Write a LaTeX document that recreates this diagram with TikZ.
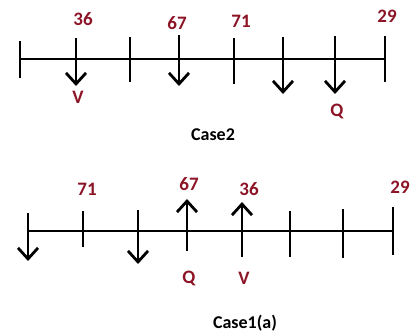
\documentclass[tikz,border=0pt]{standalone}
\usepackage{fontspec}
\setmainfont{Carlito}
\usepackage{tikz}
\usetikzlibrary{arrows.meta}
\definecolor{darkred}{rgb}{0.55,0.08,0.15}

\begin{document}
\begin{tikzpicture}[
  x=1pt,y=-1pt,
  axis/.style={line width=2.8pt},
  tick/.style={line width=2.8pt},
  flow/.style={line width=2.8pt,-{Straight Barb[length=11pt,width=20pt]}},
  value/.style={font={\fontsize{19}{19}\selectfont\bfseries},text=darkred},
  title/.style={font={\fontsize{18}{18}\selectfont\bfseries}},
  ]
  \useasboundingbox (0,0) rectangle (412,335);
  % Case 2 line
  \coordinate (a0) at (20,59);
  \coordinate (a7) at (384,59);
  \draw[axis] (a0) -- (a7);
  \draw[tick] (20,41) -- (20,78);
  \draw[tick] (130,37) -- (130,82);
  \draw[tick] (234,38) -- (234,84);
  \draw[tick] (385,36) -- (385,82);
  % Case 2 flows
  \coordinate (v1) at (76,38); \coordinate (v1e) at (76,86);
  \coordinate (v2) at (179,35); \coordinate (v2e) at (179,86);
  \coordinate (v3) at (283,37); \coordinate (v3e) at (283,94);
  \coordinate (v4) at (335,36); \coordinate (v4e) at (335,94);
  \draw[flow] (v1) -- (v1e);
  \draw[flow] (v2) -- (v2e);
  \draw[flow] (v3) -- (v3e);
  \draw[flow] (v4) -- (v4e);
  % Case 2 labels
  \node[value] (n36) at (83,19) {36};
  \node[value] (n67) at (177,23) {67};
  \node[value] (n71) at (241,21) {71};
  \node[value] (n29) at (387,16) {29};
  \node[value] (nV) at (78,97) {V};
  \node[value] (nQ) at (337,111) {Q};
  \node[title] (case2) at (213,135) {Case2};
  % Case 1(a) line
  \coordinate (b0) at (28,231);
  \coordinate (b7) at (392,231);
  \draw[axis] (b0) -- (b7);
  \draw[tick] (83,211) -- (83,247);
  \draw[tick] (290,211) -- (290,257);
  \draw[tick] (343,209) -- (343,258);
  \draw[tick] (393,207) -- (393,255);
  % Case 1(a) flows
  \coordinate (w1) at (28,213); \coordinate (w1e) at (28,261);
  \coordinate (w2) at (138,210); \coordinate (w2e) at (138,264);
  \coordinate (w3) at (187,251); \coordinate (w3e) at (187,199);
  \coordinate (w4) at (242,257); \coordinate (w4e) at (242,202);
  \draw[flow] (w1) -- (w1e);
  \draw[flow] (w2) -- (w2e);
  \draw[flow] (w3) -- (w3e);
  \draw[flow] (w4) -- (w4e);
  % Case 1(a) labels
  \node[value] (m71) at (87,189) {71};
  \node[value] (m67) at (189,184) {67};
  \node[value] (m36) at (249,189) {36};
  \node[value] (m29) at (400,187) {29};
  \node[value] (mQ) at (189,278) {Q};
  \node[value] (mV) at (244,278) {V};
  \node[title] (case1) at (245,323) {Case1(a)};
\end{tikzpicture}
\end{document}
